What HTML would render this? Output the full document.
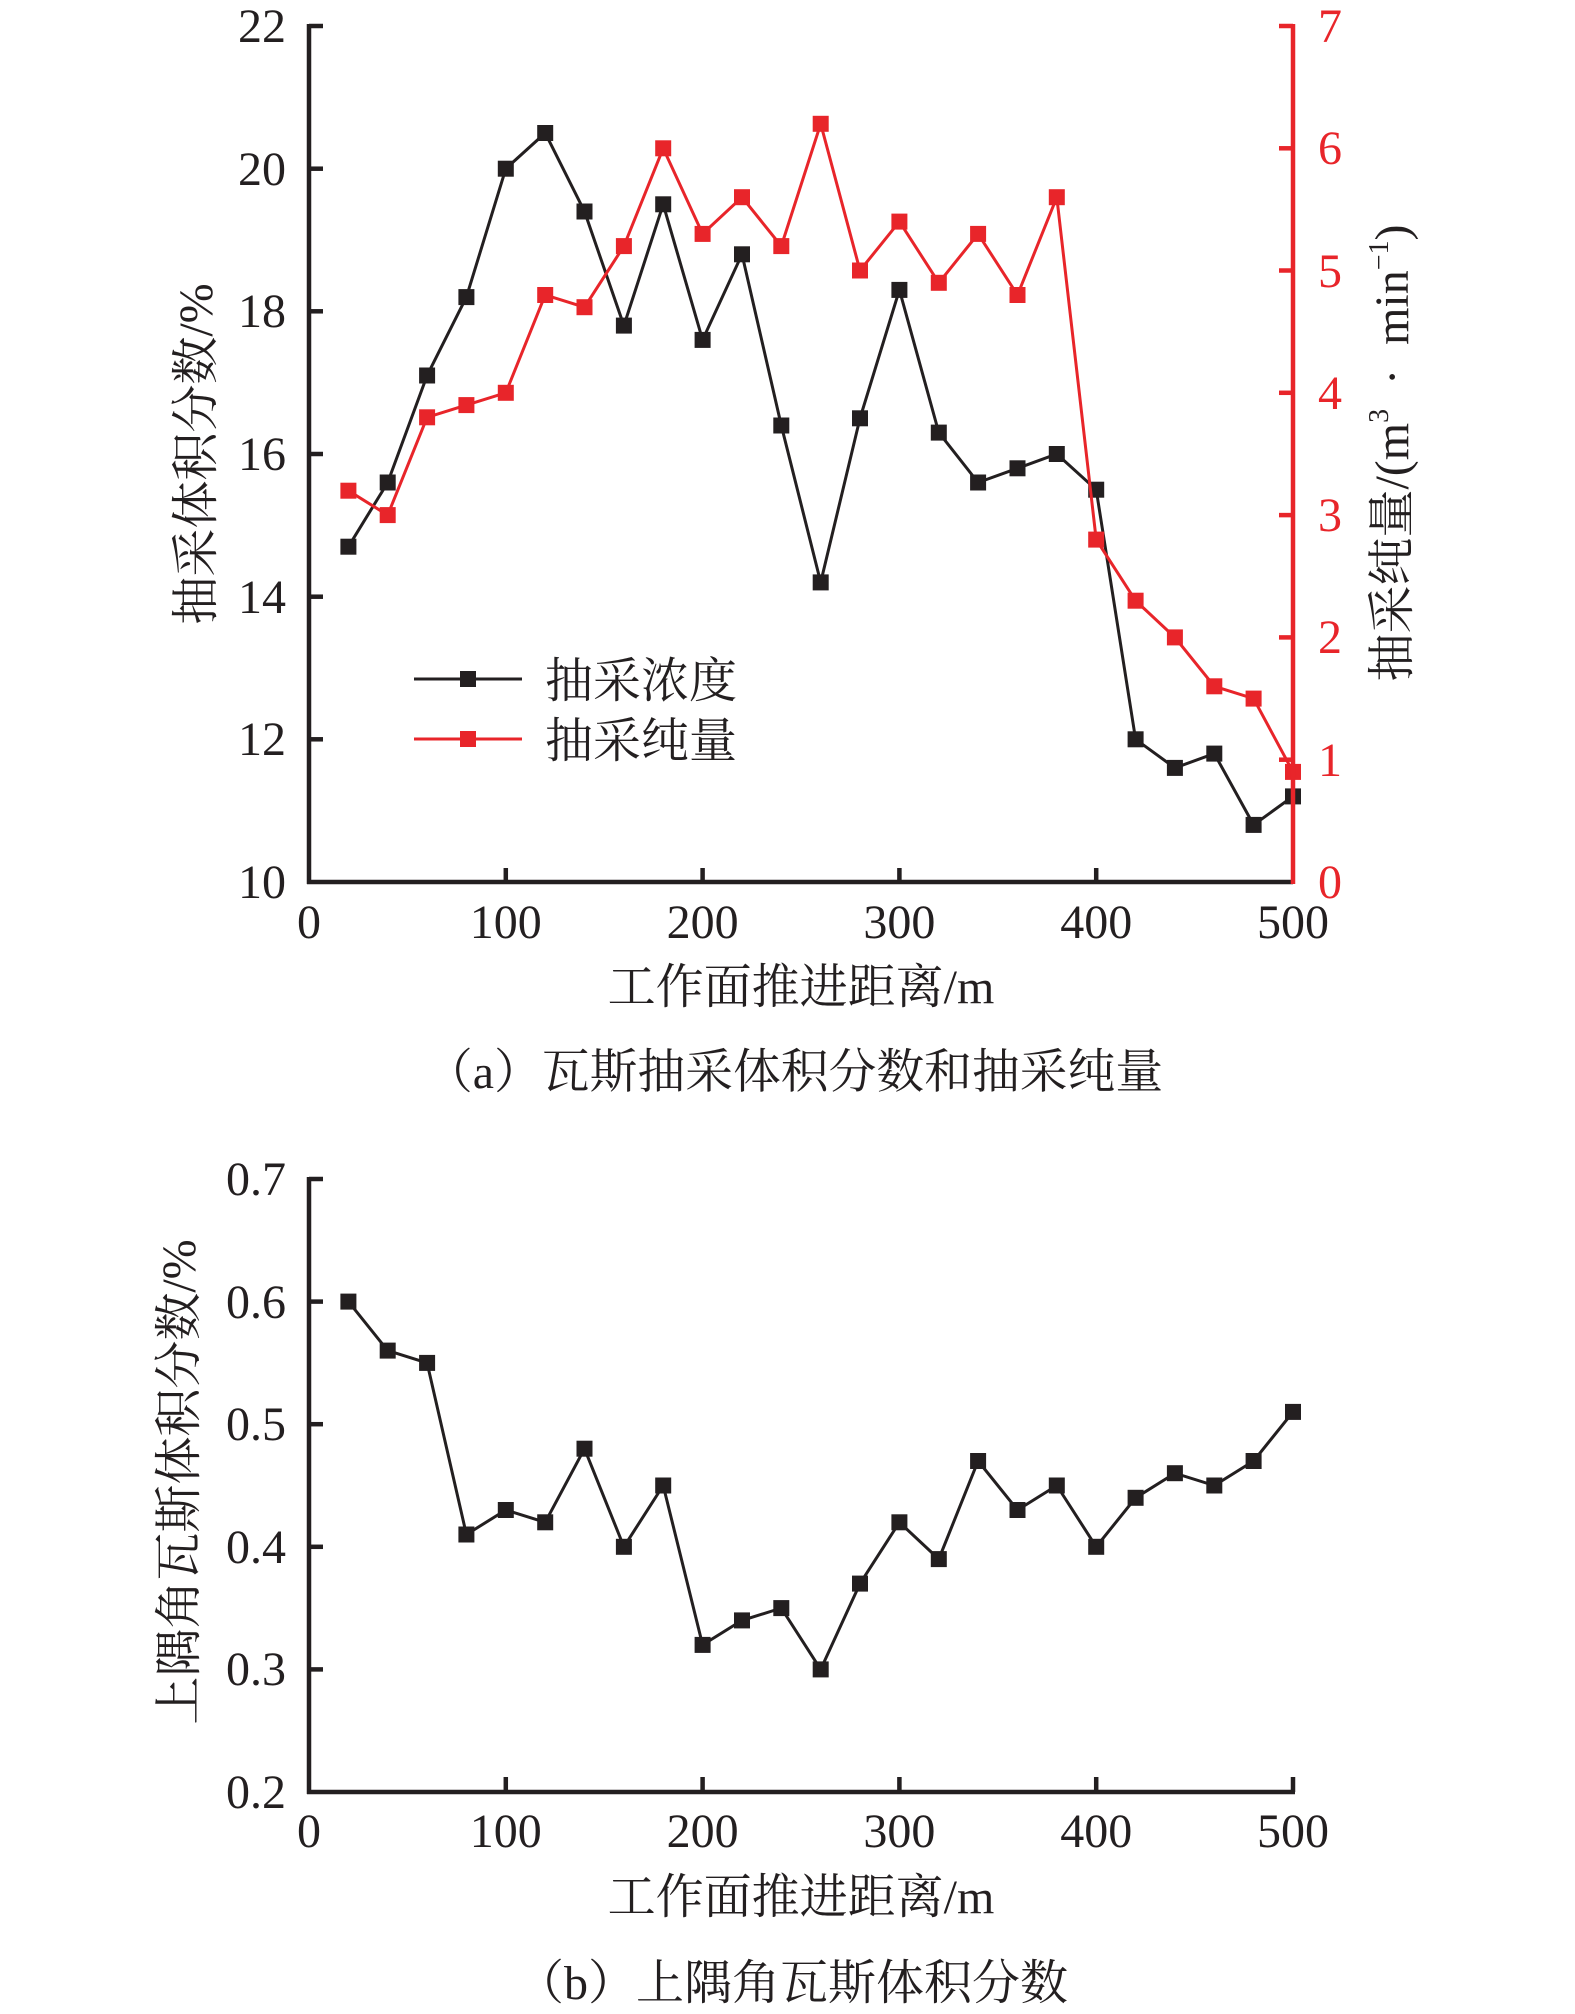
<!DOCTYPE html>
<html>
<head>
<meta charset="utf-8">
<style>
  html,body{margin:0;padding:0;background:#fff;}
  svg{display:block;}
  .num{font-family:"Liberation Serif","Noto Serif CJK SC",serif;font-size:48px;fill:#231f20;}
  .cjk{font-family:"Liberation Serif","Noto Serif CJK SC","Noto Sans CJK SC",serif;font-size:48px;fill:#231f20;}
</style>
</head>
<body>
<svg width="1575" height="2014" viewBox="0 0 1575 2014" xmlns="http://www.w3.org/2000/svg">
<defs>
  <rect id="mk" x="-8" y="-8" width="16" height="16"/>
</defs>

<!-- ================= Plot (a) ================= -->
<polyline fill="none" stroke="#231f20" stroke-width="3" stroke-linejoin="miter" points="348.4,546.7 387.7,482.5 427.1,375.5 466.4,297.1 505.8,168.7 545.2,133 584.5,211.5 623.9,325.6 663.2,204.3 702.6,339.9 742,254.3 781.3,425.5 820.7,582.4 860,418.3 899.4,289.9 938.8,432.6 978.1,482.5 1017.5,468.3 1056.8,454 1096.2,489.7 1135.6,739.3 1174.9,767.9 1214.3,753.6 1253.6,824.9 1293,796.4"/>
<g fill="#231f20">
  <use href="#mk" x="348.4" y="546.7"/><use href="#mk" x="387.7" y="482.5"/><use href="#mk" x="427.1" y="375.5"/><use href="#mk" x="466.4" y="297.1"/><use href="#mk" x="505.8" y="168.7"/><use href="#mk" x="545.2" y="133"/><use href="#mk" x="584.5" y="211.5"/><use href="#mk" x="623.9" y="325.6"/><use href="#mk" x="663.2" y="204.3"/><use href="#mk" x="702.6" y="339.9"/><use href="#mk" x="742" y="254.3"/><use href="#mk" x="781.3" y="425.5"/><use href="#mk" x="820.7" y="582.4"/><use href="#mk" x="860" y="418.3"/><use href="#mk" x="899.4" y="289.9"/><use href="#mk" x="938.8" y="432.6"/><use href="#mk" x="978.1" y="482.5"/><use href="#mk" x="1017.5" y="468.3"/><use href="#mk" x="1056.8" y="454"/><use href="#mk" x="1096.2" y="489.7"/><use href="#mk" x="1135.6" y="739.3"/><use href="#mk" x="1174.9" y="767.9"/><use href="#mk" x="1214.3" y="753.6"/><use href="#mk" x="1253.6" y="824.9"/><use href="#mk" x="1293" y="796.4"/>
</g>
<polyline fill="none" stroke="#e8252a" stroke-width="3" stroke-linejoin="miter" points="348.4,490.7 387.7,515.1 427.1,417.3 466.4,405.1 505.8,392.8 545.2,295 584.5,307.2 623.9,246.1 663.2,148.3 702.6,233.9 742,197.2 781.3,246.1 820.7,123.8 860,270.5 899.4,221.6 938.8,282.8 978.1,233.9 1017.5,295 1056.8,197.2 1096.2,539.6 1135.6,600.7 1174.9,637.4 1214.3,686.3 1253.6,698.6 1293,771.9"/>
<g fill="#e8252a">
  <use href="#mk" x="348.4" y="490.7"/><use href="#mk" x="387.7" y="515.1"/><use href="#mk" x="427.1" y="417.3"/><use href="#mk" x="466.4" y="405.1"/><use href="#mk" x="505.8" y="392.8"/><use href="#mk" x="545.2" y="295"/><use href="#mk" x="584.5" y="307.2"/><use href="#mk" x="623.9" y="246.1"/><use href="#mk" x="663.2" y="148.3"/><use href="#mk" x="702.6" y="233.9"/><use href="#mk" x="742" y="197.2"/><use href="#mk" x="781.3" y="246.1"/><use href="#mk" x="820.7" y="123.8"/><use href="#mk" x="860" y="270.5"/><use href="#mk" x="899.4" y="221.6"/><use href="#mk" x="938.8" y="282.8"/><use href="#mk" x="978.1" y="233.9"/><use href="#mk" x="1017.5" y="295"/><use href="#mk" x="1056.8" y="197.2"/><use href="#mk" x="1096.2" y="539.6"/><use href="#mk" x="1135.6" y="600.7"/><use href="#mk" x="1174.9" y="637.4"/><use href="#mk" x="1214.3" y="686.3"/><use href="#mk" x="1253.6" y="698.6"/><use href="#mk" x="1293" y="771.9"/>
</g>

<g stroke="#231f20" stroke-width="4.5" fill="none">
  <line x1="309" y1="24" x2="309" y2="884"/>
  <line x1="307" y1="882" x2="1293" y2="882"/>
  <line x1="309" y1="26" x2="323" y2="26"/>
  <line x1="309" y1="168.7" x2="323" y2="168.7"/>
  <line x1="309" y1="311.3" x2="323" y2="311.3"/>
  <line x1="309" y1="454" x2="323" y2="454"/>
  <line x1="309" y1="596.7" x2="323" y2="596.7"/>
  <line x1="309" y1="739.3" x2="323" y2="739.3"/>
  <line x1="505.8" y1="882" x2="505.8" y2="868"/>
  <line x1="702.6" y1="882" x2="702.6" y2="868"/>
  <line x1="899.4" y1="882" x2="899.4" y2="868"/>
  <line x1="1096.2" y1="882" x2="1096.2" y2="868"/>
</g>
<g stroke="#e8252a" stroke-width="4.5" fill="none">
  <line x1="1293" y1="24" x2="1293" y2="884"/>
  <line x1="1279" y1="26" x2="1293" y2="26"/>
  <line x1="1279" y1="148.3" x2="1293" y2="148.3"/>
  <line x1="1279" y1="270.5" x2="1293" y2="270.5"/>
  <line x1="1279" y1="392.8" x2="1293" y2="392.8"/>
  <line x1="1279" y1="515.1" x2="1293" y2="515.1"/>
  <line x1="1279" y1="637.4" x2="1293" y2="637.4"/>
  <line x1="1279" y1="759.7" x2="1293" y2="759.7"/>
</g>

<g class="num" text-anchor="end">
  <text x="286" y="42">22</text>
  <text x="286" y="185">20</text>
  <text x="286" y="327">18</text>
  <text x="286" y="470">16</text>
  <text x="286" y="613">14</text>
  <text x="286" y="755">12</text>
  <text x="286" y="898">10</text>
</g>
<g class="num" text-anchor="start" style="fill:#e8252a">
  <text x="1318" y="42">7</text>
  <text x="1318" y="164">6</text>
  <text x="1318" y="287">5</text>
  <text x="1318" y="409">4</text>
  <text x="1318" y="531">3</text>
  <text x="1318" y="653">2</text>
  <text x="1318" y="776">1</text>
  <text x="1318" y="898">0</text>
</g>
<g class="num" text-anchor="middle">
  <text x="309" y="938">0</text>
  <text x="505.8" y="938">100</text>
  <text x="702.6" y="938">200</text>
  <text x="899.4" y="938">300</text>
  <text x="1096.2" y="938">400</text>
  <text x="1293" y="938">500</text>
</g>

<text class="cjk" text-anchor="middle" x="801" y="1003">工作面推进距离/m</text>
<text class="cjk" text-anchor="middle" transform="translate(194,454) rotate(-90)" y="18">抽采体积分数/%</text>
<text class="cjk" text-anchor="middle" transform="translate(1390,453) rotate(-90)" y="18">抽采纯量/(m<tspan font-size="28" dy="-20">3</tspan><tspan dy="20">&#8194;·&#8194;min</tspan><tspan font-size="28" dy="-20">−1</tspan><tspan dy="20">)</tspan></text>

<line x1="414" y1="679" x2="522" y2="679" stroke="#231f20" stroke-width="3"/>
<use href="#mk" x="468" y="679" fill="#231f20"/>
<text class="cjk" x="545" y="697">抽采浓度</text>
<line x1="414" y1="739" x2="522" y2="739" stroke="#e8252a" stroke-width="3"/>
<use href="#mk" x="468" y="739" fill="#e8252a"/>
<text class="cjk" x="545" y="757">抽采纯量</text>

<!-- caption (a) -->
<text class="cjk" x="425" y="1088" style="font-size:47.8px">（a）瓦斯抽采体积分数和抽采纯量</text>

<!-- ================= Plot (b) ================= -->
<polyline fill="none" stroke="#231f20" stroke-width="3" stroke-linejoin="miter" points="348.4,1301.6 387.7,1350.6 427.1,1362.9 466.4,1534.5 505.8,1510 545.2,1522.3 584.5,1448.7 623.9,1546.8 663.2,1485.5 702.6,1644.9 742,1620.4 781.3,1608.1 820.7,1669.4 860,1583.6 899.4,1522.3 938.8,1559.1 978.1,1461 1017.5,1510 1056.8,1485.5 1096.2,1546.8 1135.6,1497.8 1174.9,1473.2 1214.3,1485.5 1253.6,1461 1293,1411.9"/>
<g fill="#231f20">
  <use href="#mk" x="348.4" y="1301.6"/><use href="#mk" x="387.7" y="1350.6"/><use href="#mk" x="427.1" y="1362.9"/><use href="#mk" x="466.4" y="1534.5"/><use href="#mk" x="505.8" y="1510"/><use href="#mk" x="545.2" y="1522.3"/><use href="#mk" x="584.5" y="1448.7"/><use href="#mk" x="623.9" y="1546.8"/><use href="#mk" x="663.2" y="1485.5"/><use href="#mk" x="702.6" y="1644.9"/><use href="#mk" x="742" y="1620.4"/><use href="#mk" x="781.3" y="1608.1"/><use href="#mk" x="820.7" y="1669.4"/><use href="#mk" x="860" y="1583.6"/><use href="#mk" x="899.4" y="1522.3"/><use href="#mk" x="938.8" y="1559.1"/><use href="#mk" x="978.1" y="1461"/><use href="#mk" x="1017.5" y="1510"/><use href="#mk" x="1056.8" y="1485.5"/><use href="#mk" x="1096.2" y="1546.8"/><use href="#mk" x="1135.6" y="1497.8"/><use href="#mk" x="1174.9" y="1473.2"/><use href="#mk" x="1214.3" y="1485.5"/><use href="#mk" x="1253.6" y="1461"/><use href="#mk" x="1293" y="1411.9"/>
</g>

<g stroke="#231f20" stroke-width="4.5" fill="none">
  <line x1="309" y1="1177" x2="309" y2="1794"/>
  <line x1="307" y1="1792" x2="1295" y2="1792"/>
  <line x1="309" y1="1179" x2="323" y2="1179"/>
  <line x1="309" y1="1301.6" x2="323" y2="1301.6"/>
  <line x1="309" y1="1424.2" x2="323" y2="1424.2"/>
  <line x1="309" y1="1546.8" x2="323" y2="1546.8"/>
  <line x1="309" y1="1669.4" x2="323" y2="1669.4"/>
  <line x1="505.8" y1="1792" x2="505.8" y2="1777"/>
  <line x1="702.6" y1="1792" x2="702.6" y2="1777"/>
  <line x1="899.4" y1="1792" x2="899.4" y2="1777"/>
  <line x1="1096.2" y1="1792" x2="1096.2" y2="1777"/>
  <line x1="1293" y1="1792" x2="1293" y2="1777"/>
</g>

<g class="num" text-anchor="end">
  <text x="286" y="1195">0.7</text>
  <text x="286" y="1318">0.6</text>
  <text x="286" y="1440">0.5</text>
  <text x="286" y="1563">0.4</text>
  <text x="286" y="1685">0.3</text>
  <text x="286" y="1808">0.2</text>
</g>
<g class="num" text-anchor="middle">
  <text x="309" y="1847">0</text>
  <text x="505.8" y="1847">100</text>
  <text x="702.6" y="1847">200</text>
  <text x="899.4" y="1847">300</text>
  <text x="1096.2" y="1847">400</text>
  <text x="1293" y="1847">500</text>
</g>

<text class="cjk" text-anchor="middle" x="801" y="1913">工作面推进距离/m</text>
<text class="cjk" text-anchor="middle" transform="translate(177,1482) rotate(-90)" y="18">上隅角瓦斯体积分数/%</text>

<!-- caption (b) -->
<text class="cjk" x="516" y="1999" style="font-size:48px">（b）上隅角瓦斯体积分数</text>
</svg>
</body>
</html>
